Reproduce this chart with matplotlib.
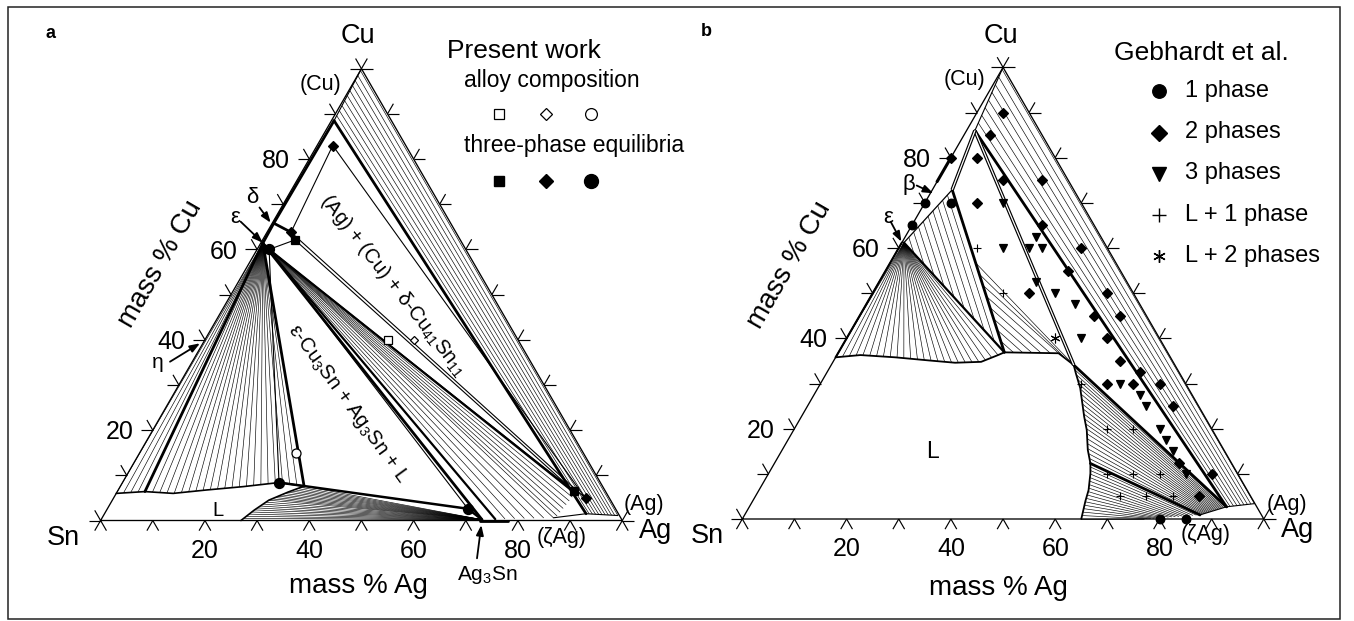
import numpy as np
import matplotlib
matplotlib.use("Agg")
import matplotlib.pyplot as plt
from matplotlib.collections import LineCollection
from matplotlib.patches import Rectangle

plt.rcParams['font.family'] = ['Liberation Sans', 'DejaVu Sans']
plt.rcParams['mathtext.fontset'] = 'custom'
plt.rcParams['mathtext.rm'] = 'Liberation Sans'
plt.rcParams['mathtext.it'] = 'Liberation Sans:italic'
plt.rcParams['mathtext.bf'] = 'Liberation Sans:bold'

W, H = 1354, 621
R3 = np.sqrt(3.0) / 2.0

# ------------------------------------------------------------------
# All compositions are (mass % Ag, mass % Cu); Sn is the balance.
# ------------------------------------------------------------------

# ---- panel a: calculated section and the present three-phase data ----
a_cu_solvus = [(0.0, 99.6), (0.5, 88.5)]
a_ag_solvus = [(98.6, 1.1), (92.3, 1.5)]
a_cu_corner = (0.5, 88.5)
a_ag_corner = (92.3, 1.5)
a_delta = (0.3, 65.8)
a_eps = (0.4, 61.4)
a_ag3sn = (73.0, 0.2)
a_liq_top = [(0.0, 6.0), (5.3, 6.4), (10.9, 6.0), (16.9, 6.75),
             (23.6, 7.5), (30.0, 8.4), (35.2, 7.6)]
a_liq_side = [(35.2, 7.6), (32.8, 6.3), (30.0, 4.5), (28.3, 2.3), (26.9, 0.0)]
a_zeta_low = [(75.5, 0.3), (86.5, 0.6)]
a_zeta_high = [(87.0, 1.0), (88.0, 6.0)]
a_ag3sn_zeta_edge = [(72.8, 0.0), (78.0, 0.0)]

# alloy compositions (open symbols): square, diamond, circle
a_alloy_ag = [35.0, 40.0, 30.0]
a_alloy_cu = [40.0, 40.0, 15.0]
# measured three-phase equilibria (filled symbols)
a_sq_ag = [6.2, 87.5]
a_sq_cu = [62.1, 6.5]
a_di_ag = [3.0, 4.6, 90.5]
a_di_cu = [83.0, 63.8, 4.9]
a_ci_ag = [2.3, 30.0, 69.1]
a_ci_cu = [60.0, 8.4, 2.6]

# ---- panel b: section compared with Gebhardt et al. ----
b_cu_solvus = [(0.0, 99.6), (1.6, 86.0)]
b_ag_solvus = [(96.5, 3.4), (91.5, 2.7)]
b_cu_corner = (1.6, 86.0)
b_ag_corner = (91.5, 2.7)
b_beta = (3.8, 72.9)
b_eps = (0.4, 61.2)
b_beta_edge = [(0.0, 74.7), (0.0, 80.2)]
b_liquidus = [(0.0, 35.8), (4.5, 36.3), (11.4, 35.8), (18.3, 35.1), (23.5, 34.6),
              (28.4, 34.8), (30.9, 36.3), (31.8, 36.9), (42.3, 36.7), (46.5, 34.1),
              (47.8, 32.3), (50.3, 29.0), (54.2, 22.7), (56.2, 19.7), (58.6, 15.3),
              (60.6, 12.3), (61.7, 10.1), (63.2, 6.4), (63.8, 4.0), (65.0, 0.0)]
b_zeta = (87.3, 0.9)
b_zeta_low = [(87.3, 0.9), (77.0, 0.0)]

b_one_ag = [0, 0, 5, 80, 85]
b_one_cu = [70, 65, 70, 0, 0]
b_two_ag = [0, 5, 5, 5, 12.5, 20, 10, 25, 35, 35, 30, 45, 45, 50, 50, 55, 60, 55, 60,
            65, 70, 77.5, 85, 85]
b_two_cu = [80, 90, 85, 80, 75, 75, 70, 65, 60, 55, 50, 50, 45, 45, 40, 35, 32.5, 30,
            30, 30, 25, 12.5, 10, 5]
b_three_ag = [15, 20, 25, 25, 27.5, 30, 35, 40, 45, 57.5, 62.5, 65, 70, 72.5, 75, 80]
b_three_cu = [70, 60, 62.5, 60, 60, 52.5, 50, 47.5, 40, 30, 27.5, 25, 20, 17.5, 15, 10]
b_l1_ag = [15, 25, 50, 60, 65, 65, 70, 75, 70, 75, 80]
b_l1_cu = [60, 50, 30, 20, 20, 10, 10, 10, 5, 5, 5]
b_l2_ag = [40]
b_l2_cu = [40]

AXIS_TICKS = list(range(0, 101, 10))
AXIS_LABELS = [20, 40, 60, 80]

# ------------------------------------------------------------------
THIN, TIE, EDGE, MED, THICK = 0.55, 0.45, 0.95, 1.2, 2.0


def xy(points):
    p = np.atleast_2d(np.asarray(points, float))
    return p[:, 0] + p[:, 1] / 2.0, p[:, 1] * R3


def stations(points, n):
    x, y = xy(points)
    s = np.concatenate([[0.0], np.cumsum(np.hypot(np.diff(x), np.diff(y)))])
    if s[-1] == 0:
        return np.full(n, x[0]), np.full(n, y[0])
    t = np.linspace(0.0, s[-1], n)
    return np.interp(t, s, x), np.interp(t, s, y)


def tie_lines(ax, side_a, side_b, n, lw=TIE):
    xa, ya = stations(side_a, n)
    xb, yb = stations(side_b, n)
    segs = np.stack([np.column_stack([xa, ya]), np.column_stack([xb, yb])], axis=1)
    ax.add_collection(LineCollection(segs, colors='k', linewidths=lw, zorder=2))


def fan(ax, apex, curve, n, lw=TIE):
    tie_lines(ax, [apex], curve, n, lw)


def line(ax, points, lw=THIN):
    x, y = xy(points)
    ax.plot(x, y, color='k', lw=lw, solid_capstyle='round',
            solid_joinstyle='round', zorder=3)


def double_line(ax, points):
    x, y = xy(points)
    ax.plot(x, y, color='k', lw=2.6, solid_capstyle='butt', zorder=3)
    ax.plot(x, y, color='w', lw=0.9, solid_capstyle='butt', zorder=3)


def marks(ax, ag, cu, marker, ms, filled=True, mew=0.9, zorder=5):
    x, y = xy(np.column_stack([ag, cu]))
    ax.plot(x, y, ls='none', marker=marker, ms=ms, mew=mew, mec='k',
            mfc='k' if filled else 'w', zorder=zorder)


def panel_axes(left_px, width_px, sn_x, sn_y, side_px):
    s = side_px / 100.0
    ax = fig.add_axes([left_px / W, 0.0, width_px / W, 1.0])
    ax.set_axis_off()
    ax.set_xlim((left_px - sn_x) / s, (left_px + width_px - sn_x) / s)
    ax.set_ylim((sn_y - H) / s, sn_y / s)
    return ax


def triangle(ax, tl=2.25):
    x, y = xy([(0, 0), (100, 0), (0, 100), (0, 0)])
    ax.plot(x, y, color='k', lw=EDGE, solid_joinstyle='miter', zorder=4)
    out = {'bottom': [(-0.5, -R3), (0.5, -R3)],
           'left': [(-1.0, 0.0), (-0.5, R3)],
           'right': [(1.0, 0.0), (0.5, R3)]}
    segs = []
    for v in AXIS_TICKS:
        for side, pt in (('bottom', (v, 0)), ('left', (0, v)), ('right', (100 - v, v))):
            px, py = xy([pt])
            for dx, dy in out[side]:
                segs.append([(px[0], py[0]), (px[0] + tl * dx, py[0] + tl * dy)])
    ax.add_collection(LineCollection(segs, colors='k', linewidths=0.85, zorder=4))
    for v in AXIS_LABELS:
        px, py = xy([(0, v)])
        ax.text(px[0] - 3.75, py[0] - 1.75, str(v), ha='right', va='baseline', fontsize=18)
        px, py = xy([(v, 0)])
        ax.text(px[0], py[0] - 7.1, str(v), ha='center', va='baseline', fontsize=18)


fig = plt.figure(figsize=(W / 100, H / 100), dpi=100)
fig.patch.set_facecolor('white')

# ================================ panel a ================================
ax = panel_axes(0, 677, 100.6, 520.5, 521.7)

tie_lines(ax, a_cu_solvus, a_ag_solvus, 11)            # (Cu) + (Ag)
fan(ax, a_eps, a_liq_top, 27)                           # eps + L
fan(ax, a_ag3sn, a_liq_side, 22)                        # L + Ag3Sn
fan(ax, a_eps, a_zeta_low, 7)                           # eps + zeta
eps_meas = (a_ci_ag[0], a_ci_cu[0])
tie_lines(ax, [a_eps, eps_meas], a_zeta_high, 7)

line(ax, [(0, 100), a_cu_corner], 0.8)
line(ax, [a_cu_corner, a_ag_corner], THICK)
line(ax, [a_cu_corner, a_delta, a_eps], THICK)
line(ax, [a_delta, (a_di_ag[1], a_di_cu[1])], THICK)
line(ax, [a_eps, a_liq_top[1]], THICK)
line(ax, [a_eps, a_liq_top[-1]], THICK)
line(ax, [a_eps, a_ag3sn], THICK)
line(ax, [a_eps, a_zeta_low[0]], 1.6)
line(ax, [eps_meas, a_zeta_high[-1]], 1.6)
line(ax, a_liq_top + a_liq_side[1:], MED)
line(ax, [(a_ci_ag[1], a_ci_cu[1]), (a_ci_ag[2], a_ci_cu[2]), a_ag3sn], 1.8)
line(ax, [a_zeta_low[-1], a_ag_corner, a_ag_solvus[0]], 0.8)
line(ax, a_ag3sn_zeta_edge, THICK)

# measured tie triangles
sq = list(zip(a_sq_ag, a_sq_cu))
di = list(zip(a_di_ag, a_di_cu))
ci = list(zip(a_ci_ag, a_ci_cu))
line(ax, [ci[0], sq[0], sq[1], ci[0]], 0.8)
line(ax, [di[0], di[1], di[2], di[0]], 0.8)
line(ax, [ci[0], ci[1]], 0.8)
line(ax, [ci[0], ci[2]], 0.8)

triangle(ax)

marks(ax, a_alloy_ag[:1], a_alloy_cu[:1], 's', 5.8, filled=False, mew=0.9)
marks(ax, a_alloy_ag[1:2], a_alloy_cu[1:2], 'D', 4.4, filled=False, mew=0.9)
marks(ax, a_alloy_ag[2:], a_alloy_cu[2:], 'o', 6.5, filled=False, mew=0.9)
marks(ax, a_sq_ag, a_sq_cu, 's', 5.5)
marks(ax, a_di_ag, a_di_cu, 'D', 4.7)
marks(ax, a_ci_ag, a_ci_cu, 'o', 7.2)

# ================================ panel b ================================
bx = panel_axes(677, 677, 742.3, 519.0, 521.5)

Q = b_liquidus[7]
Lc = b_liquidus[9]
L4 = b_liquidus[15]
bq = np.asarray(b_beta) + 0.45 * (np.asarray(Q) - np.asarray(b_beta))

tie_lines(bx, b_cu_solvus, b_ag_solvus, 9)                     # (Cu) + (Ag)
fan(bx, b_eps, b_liquidus[:8], 26)                              # eps + L
tie_lines(bx, [b_eps, b_beta], [b_eps, Q], 11)                  # beta + L
tie_lines(bx, [tuple(bq), Q], [Lc, b_liquidus[8], Q], 9)
tie_lines(bx, b_liquidus[9:16], [b_ag_corner, b_zeta], 21)      # L + (Ag)
tie_lines(bx, b_liquidus[15:], b_zeta_low, 17)                  # L + zeta

line(bx, b_liquidus, 1.3)
line(bx, [b_liquidus[0], (0.0, b_eps[1])], 1.5)                # eps + L along Cu-Sn side
line(bx, [(0, 100), b_cu_corner], 0.8)
line(bx, [b_cu_corner, b_ag_corner], THICK)
line(bx, [Lc, b_ag_corner], THICK)
line(bx, [L4, b_zeta], THICK)
line(bx, [b_zeta, b_ag_corner, b_ag_solvus[0]], 0.8)
line(bx, [b_beta, Q], THICK)
line(bx, [b_eps, Q], 1.6)
line(bx, [b_eps, b_beta], 0.9)
double_line(bx, [b_cu_corner, Lc])
double_line(bx, [b_beta, b_cu_corner])
line(bx, b_beta_edge, 2.2)

triangle(bx)

marks(bx, b_one_ag, b_one_cu, 'o', 6.2)
marks(bx, b_two_ag, b_two_cu, 'D', 4.7)
marks(bx, b_three_ag, b_three_cu, 'v', 6.0)
marks(bx, b_l1_ag, b_l1_cu, '+', 6.0, mew=0.8)
marks(bx, b_l2_ag, b_l2_cu, (6, 2, 0), 7.0, mew=0.8)

# ============================ labels (pixels) ============================
ov = fig.add_axes([0, 0, 1, 1])
ov.set_axis_off()
ov.patch.set_visible(False)
ov.set_xlim(0, W)
ov.set_ylim(H, 0)

ov.add_patch(Rectangle((7.8, 7.3), 1340 - 7.8, 619.2 - 7.3, fill=False,
                       ec='#222222', lw=1.1))


def label(x, y, s, size, ha='center', va='baseline', **kw):
    ov.text(x, y, s, ha=ha, va=va, fontsize=size, **kw)


def arrow(tail, tip):
    ov.annotate('', xy=tip, xytext=tail,
                arrowprops=dict(arrowstyle='-|>,head_length=0.6,head_width=0.22',
                                color='k', lw=1.3, shrinkA=0, shrinkB=0))


# panel a
label(50, 33, 'a', 13, va='center', fontweight='bold')
label(357.8, 43.3, 'Cu', 19.5)
label(63, 545, 'Sn', 19.5)
label(655.5, 538.3, 'Ag', 19.5)
label(320.8, 90, '(Cu)', 15.5)
label(644.4, 510, '(Ag)', 15.5)
label(561.5, 543, '(ζAg)', 15.5)
label(358.8, 592.7, 'mass % Ag', 20)
label(160.5, 264, 'mass % Cu', 20, va='center', rotation=60, rotation_mode='anchor')
label(487.7, 580, 'Ag$_3$Sn', 15)
label(218, 516, 'L', 14.5)
label(252.5, 203.3, 'δ', 16)
label(235, 223.3, 'ε', 16)
label(158, 368.5, 'η', 15)
label(393, 286, '(Ag) + (Cu) + δ-Cu$_{41}$Sn$_{11}$', 14.5, va='center',
      rotation=-52, rotation_mode='anchor')
label(348, 404, 'ε-Cu$_3$Sn + Ag$_3$Sn + L', 14.5, va='center',
      rotation=-54, rotation_mode='anchor')
arrow((259.5, 207.5), (270.7, 222.7))
arrow((240.7, 221.7), (262.7, 242.7))
arrow((170, 361.7), (200, 343.3))
arrow((477, 558.3), (481.3, 525))

label(446.7, 58.3, 'Present work', 19, ha='left')
label(464, 87.3, 'alloy composition', 16.5, ha='left')
label(464, 151.7, 'three-phase equilibria', 16.5, ha='left')
ov.plot([498.7], [114.3], 's', ms=6.5, mfc='w', mec='k', mew=0.9)
ov.plot([545.5], [114.3], 'D', ms=6.0, mfc='w', mec='k', mew=0.9)
ov.plot([590.6], [114.3], 'o', ms=8.5, mfc='w', mec='k', mew=0.9)
ov.plot([498.7], [181], 's', ms=7.5, mfc='k', mec='k')
ov.plot([545.5], [181], 'D', ms=7.0, mfc='k', mec='k')
ov.plot([590.6], [181], 'o', ms=10, mfc='k', mec='k')

# panel b
label(706, 32, 'b', 13, va='center', fontweight='bold')
label(1001.3, 42.7, 'Cu', 19.5)
label(707, 543.3, 'Sn', 19.5)
label(1298, 537, 'Ag', 19.5)
label(964.8, 85, '(Cu)', 15.5)
label(1287, 510, '(Ag)', 15.5)
label(1205.6, 540, '(ζAg)', 15.5)
label(998, 595, 'mass % Ag', 20)
label(789, 265, 'mass % Cu', 20, va='center', rotation=60, rotation_mode='anchor')
label(932.5, 458.3, 'L', 16.5)
label(909, 190, 'β', 16)
label(888.5, 223.3, 'ε', 16)
arrow((916.7, 185.5), (933.3, 193.3))
arrow((890.7, 221.7), (901.4, 241.7))

label(1114, 60, 'Gebhardt et al.', 19, ha='left')
legend_rows = [('o', 9.7, '1 phase'), ('D', 8.0, '2 phases'), ('v', 9.5, '3 phases'),
               ('+', 10.0, 'L + 1 phase'), ((6, 2, 0), 9.0, 'L + 2 phases')]
for i, (m, ms, txt) in enumerate(legend_rows):
    yb = 96.7 + 41.3 * i
    ov.plot([1159.4], [yb - 5.5], ls='none', marker=m, ms=ms, mfc='k', mec='k',
            mew=1.0)
    label(1185, yb, txt, 17, ha='left')

fig.savefig('out.png', dpi=100, facecolor='white')
